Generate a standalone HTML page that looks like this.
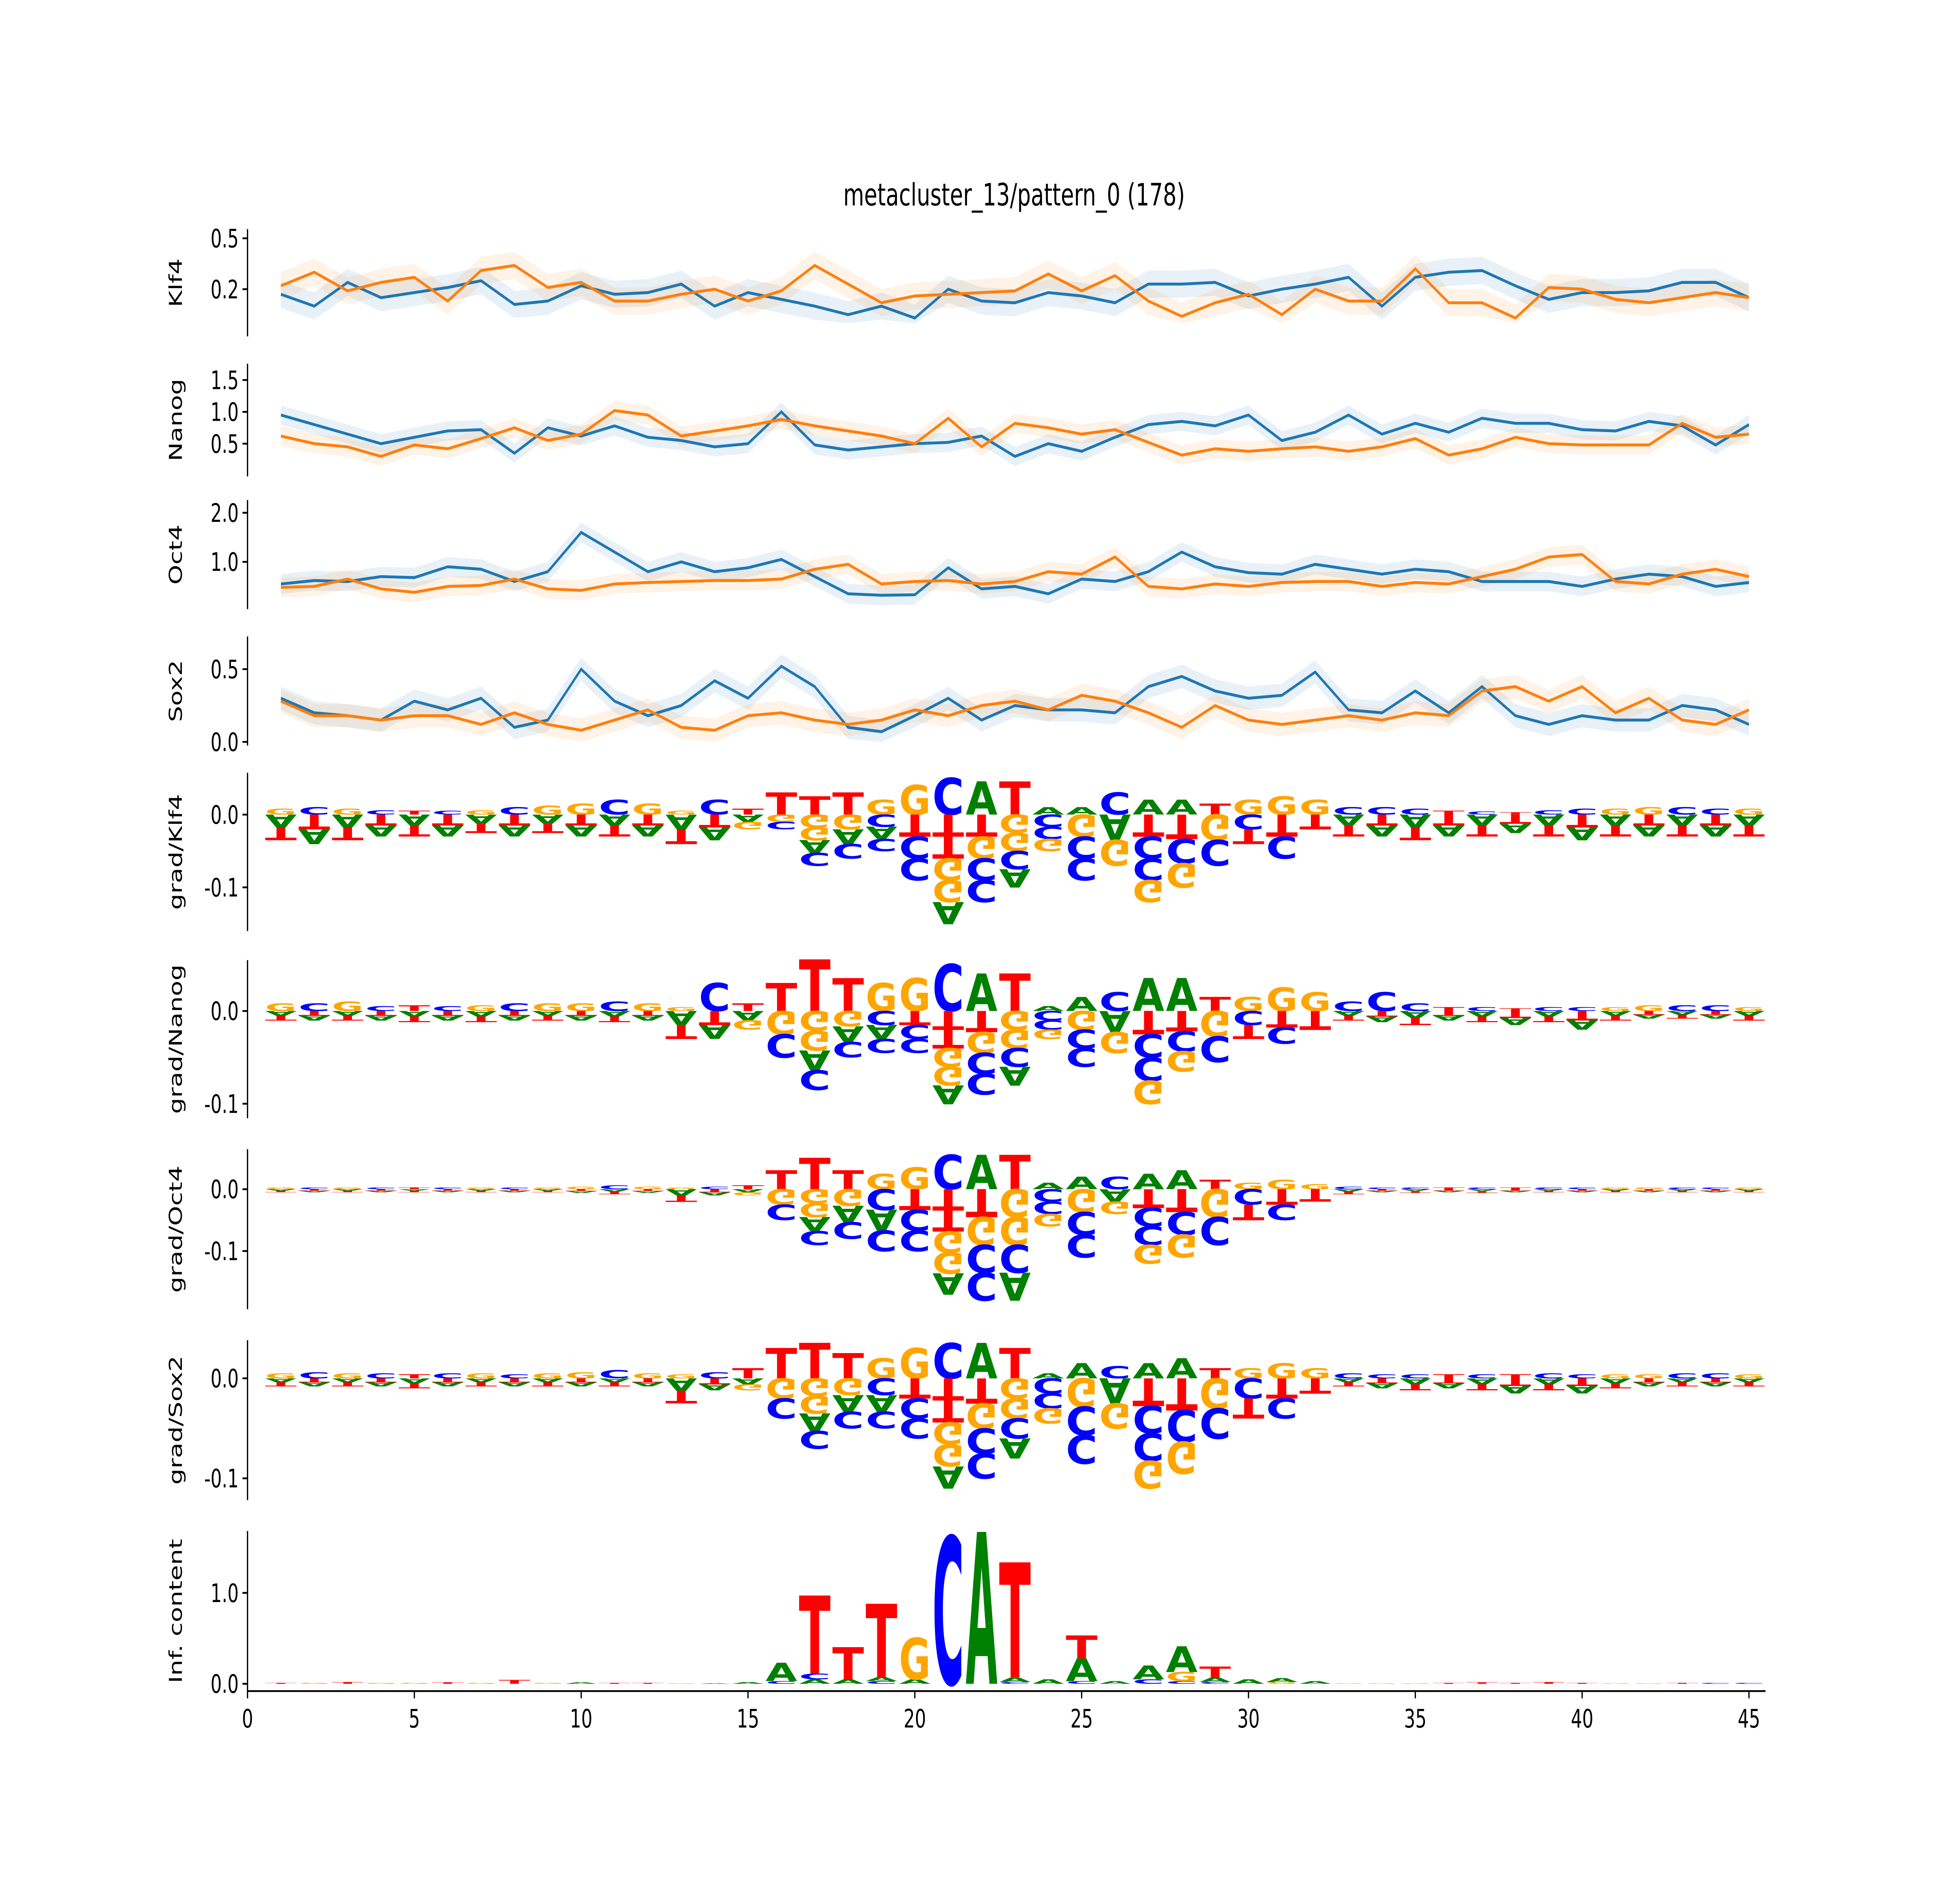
<!DOCTYPE html>
<html>
<head>
<meta charset="utf-8">
<style>
html,body{margin:0;padding:0;background:#fff;width:100vw;height:100vh;overflow:hidden;}
svg{display:block;width:100vw;height:100vh;}
text{font-family:"DejaVu Sans","Liberation Sans",sans-serif;}
</style>
</head>
<body>
<svg id="fig" xmlns="http://www.w3.org/2000/svg" width="100%" height="100%" viewBox="0 0 1552 1035" preserveAspectRatio="none">
<rect x="0" y="0" width="1552" height="1035" fill="#fff"/>
<text x="803" y="113" font-size="17" text-anchor="middle">metacluster_13/pattern_0 (178)</text>
</svg>
<script>
// ---------- data ----------
const positions = [1,2,3,4,5,6,7,8,9,10,11,12,13,14,15,16,17,18,19,20,21,22,23,24,25,26,27,28,29,30,31,32,33,34,35,36,37,38,39,40,41,42,43,44,45];
const xTicks = [0,5,10,15,20,25,30,35,40,45];

const klf4Blue = [0.17,0.1,0.24,0.15,0.18,0.21,0.25,0.11,0.13,0.22,0.17,0.18,0.23,0.1,0.18,0.14,0.1,0.05,0.1,0.03,0.2,0.13,0.12,0.18,0.16,0.12,0.23,0.23,0.24,0.16,0.2,0.23,0.27,0.1,0.27,0.3,0.31,0.22,0.14,0.18,0.18,0.19,0.24,0.24,0.15];
const klf4Orange = [0.22,0.3,0.19,0.24,0.27,0.13,0.31,0.34,0.21,0.24,0.13,0.13,0.17,0.2,0.13,0.19,0.34,0.23,0.12,0.16,0.17,0.18,0.19,0.29,0.19,0.28,0.13,0.04,0.12,0.17,0.05,0.2,0.13,0.13,0.32,0.12,0.12,0.03,0.21,0.2,0.14,0.12,0.15,0.18,0.15];
const nanogBlue = [0.95,0.8,0.65,0.5,0.6,0.7,0.72,0.35,0.75,0.62,0.78,0.6,0.55,0.45,0.5,1.0,0.48,0.4,0.45,0.5,0.52,0.62,0.3,0.5,0.38,0.6,0.8,0.85,0.78,0.95,0.55,0.68,0.95,0.65,0.82,0.68,0.9,0.82,0.82,0.72,0.7,0.85,0.78,0.48,0.8];
const nanogOrange = [0.62,0.5,0.45,0.3,0.48,0.42,0.58,0.75,0.55,0.65,1.02,0.95,0.62,0.7,0.78,0.88,0.78,0.7,0.62,0.5,0.9,0.45,0.82,0.75,0.65,0.72,0.52,0.32,0.42,0.38,0.42,0.45,0.38,0.45,0.58,0.32,0.42,0.6,0.5,0.48,0.48,0.48,0.82,0.6,0.65];
const oct4Blue = [0.55,0.62,0.6,0.7,0.68,0.9,0.85,0.6,0.8,1.6,1.2,0.8,1.0,0.8,0.88,1.05,0.7,0.35,0.32,0.33,0.88,0.45,0.5,0.35,0.65,0.6,0.8,1.2,0.9,0.78,0.75,0.95,0.85,0.75,0.85,0.8,0.6,0.6,0.6,0.5,0.65,0.75,0.7,0.5,0.58];
const oct4Orange = [0.48,0.5,0.65,0.45,0.38,0.5,0.52,0.65,0.45,0.42,0.55,0.58,0.6,0.62,0.62,0.65,0.85,0.95,0.55,0.6,0.62,0.55,0.6,0.8,0.75,1.1,0.5,0.45,0.55,0.5,0.58,0.6,0.6,0.5,0.58,0.55,0.7,0.85,1.1,1.15,0.6,0.55,0.75,0.85,0.7];
const sox2Blue = [0.3,0.2,0.18,0.15,0.28,0.22,0.3,0.1,0.15,0.5,0.28,0.18,0.25,0.42,0.3,0.52,0.38,0.1,0.07,0.18,0.3,0.15,0.25,0.22,0.22,0.2,0.38,0.45,0.35,0.3,0.32,0.48,0.22,0.2,0.35,0.2,0.38,0.18,0.12,0.18,0.15,0.15,0.25,0.22,0.12];
const sox2Orange = [0.28,0.18,0.18,0.15,0.18,0.18,0.12,0.2,0.12,0.08,0.15,0.22,0.1,0.08,0.18,0.2,0.15,0.12,0.15,0.22,0.18,0.25,0.28,0.22,0.32,0.28,0.2,0.1,0.25,0.15,0.12,0.15,0.18,0.15,0.2,0.18,0.35,0.38,0.28,0.38,0.2,0.3,0.15,0.12,0.22];
const bandErr = {klf4:0.08, nanog:0.15, oct4:0.2, sox2:0.08};

const posSeq = ["G","C","G","C","T","C","G","C","G","G","C","G","G","C","T","T","T","T","G","G","C","A","T","A","A","C","A","A","T","G","G","G","C","C","C","T","C","T","C","C","G","G","C","C","G"];
const negSeq = ["AT","TA","AT","TA","AT","TA","AT","TA","AT","TA","AT","TA","AT","TA","AG","GC","GGAC","GAC","CAC","TCC","TTGGA","TGCC","GGCA","CCG","GCC","AG","TCCG","TCG","GC","CT","TC","T","AT","TA","AT","TA","AT","TA","AT","TA","AT","TA","AT","TA","AT"];

const gKlf4Pos = [0.008,0.01,0.008,0.006,0.005,0.005,0.006,0.01,0.012,0.015,0.02,0.015,0.005,0.02,0.008,0.03,0.025,0.03,0.02,0.04,0.05,0.045,0.045,0.01,0.01,0.03,0.02,0.02,0.015,0.02,0.025,0.02,0.01,0.01,0.008,0.005,0.004,0.003,0.006,0.008,0.008,0.01,0.01,0.008,0.008];
const gKlf4Neg = [0.035,0.04,0.035,0.03,0.03,0.03,0.025,0.03,0.025,0.03,0.03,0.03,0.04,0.035,0.02,0.02,0.07,0.06,0.05,0.09,0.15,0.12,0.1,0.05,0.09,0.07,0.12,0.1,0.07,0.04,0.06,0.02,0.03,0.03,0.035,0.03,0.03,0.025,0.03,0.035,0.03,0.03,0.03,0.03,0.03];
const gNanogPos = [0.008,0.008,0.01,0.005,0.006,0.005,0.006,0.008,0.008,0.008,0.01,0.008,0.004,0.03,0.008,0.03,0.055,0.035,0.03,0.035,0.05,0.04,0.04,0.005,0.015,0.02,0.035,0.035,0.015,0.015,0.025,0.02,0.01,0.02,0.008,0.004,0.004,0.003,0.004,0.004,0.004,0.006,0.006,0.006,0.004];
const gNanogNeg = [0.01,0.01,0.01,0.01,0.012,0.01,0.012,0.01,0.01,0.01,0.012,0.01,0.03,0.03,0.02,0.05,0.085,0.05,0.045,0.045,0.1,0.09,0.08,0.03,0.06,0.045,0.1,0.065,0.055,0.03,0.035,0.02,0.01,0.012,0.015,0.01,0.012,0.015,0.012,0.02,0.01,0.008,0.008,0.008,0.01];
const gOct4Pos = [0.003,0.003,0.003,0.003,0.003,0.003,0.003,0.003,0.003,0.004,0.006,0.004,0.003,0.004,0.006,0.03,0.05,0.03,0.025,0.035,0.055,0.055,0.055,0.01,0.02,0.02,0.025,0.03,0.015,0.01,0.015,0.008,0.004,0.003,0.003,0.003,0.003,0.003,0.003,0.003,0.003,0.003,0.003,0.003,0.003];
const gOct4Neg = [0.005,0.005,0.005,0.005,0.005,0.005,0.005,0.005,0.005,0.006,0.008,0.006,0.02,0.01,0.01,0.05,0.09,0.08,0.1,0.1,0.17,0.18,0.18,0.06,0.11,0.04,0.12,0.11,0.09,0.05,0.05,0.02,0.008,0.005,0.006,0.005,0.006,0.005,0.005,0.005,0.005,0.005,0.005,0.005,0.005];
const gSox2Pos = [0.005,0.006,0.005,0.005,0.004,0.005,0.005,0.004,0.005,0.006,0.008,0.005,0.004,0.006,0.01,0.03,0.035,0.025,0.02,0.03,0.035,0.035,0.03,0.005,0.015,0.012,0.015,0.02,0.01,0.01,0.015,0.01,0.005,0.004,0.004,0.004,0.004,0.004,0.005,0.004,0.004,0.004,0.005,0.005,0.004];
const gSox2Neg = [0.008,0.008,0.008,0.008,0.01,0.008,0.008,0.008,0.008,0.008,0.008,0.008,0.025,0.012,0.012,0.04,0.07,0.05,0.05,0.06,0.11,0.1,0.08,0.045,0.085,0.05,0.11,0.095,0.06,0.04,0.04,0.015,0.008,0.01,0.012,0.01,0.012,0.015,0.012,0.015,0.01,0.008,0.008,0.008,0.008];

const infSeq = ["T","G","T","G","G","T","G","T","G","A","T","T","G","A","A","CA","ACT","AT","CAT","AG","C","A","CAT","A","CAT","A","CA","CGA","CAT","A","GA","A","G","G","G","T","T","T","T","T","G","G","T","C","C"];
const infHeights = [[0.01],[0.01],[0.02],[0.01],[0.01],[0.015],[0.01],[0.04],[0.01],[0.015],[0.01],[0.01],[0.005],[0.005],[0.02],[0.03,0.2],[0.05,0.06,0.85],[0.05,0.35],[0.03,0.04,0.8],[0.05,0.45],[1.6],[1.65],[0.02,0.05,1.25],[0.05],[0.03,0.25,0.25],[0.03],[0.05,0.15],[0.03,0.1,0.28],[0.02,0.05,0.12],[0.05],[0.02,0.04],[0.03],[0.005],[0.005],[0.005],[0.01],[0.015],[0.01],[0.02],[0.01],[0.005],[0.005],[0.01],[0.01],[0.01]];

// ---------- layout ----------
const NS = "http://www.w3.org/2000/svg";
const svg = document.getElementById("fig");
const X0 = 196, XU = 26.42, XEND = 1398;
const xs = v => X0 + v * XU;
const colors = {A:"#008000", C:"#0000ff", G:"#ffa500", T:"#ff0000"};

function mk(tag, attrs, parent){
  const e = document.createElementNS(NS, tag);
  for (const k in attrs) e.setAttribute(k, attrs[k]);
  (parent || svg).appendChild(e);
  return e;
}

const panels = [
 {key:"klf4", label:"Klf4", top:126, bot:185, zero:177.7, k:93.3, ticks:[0.2,0.5], kind:"line", blue:klf4Blue, orange:klf4Orange},
 {key:"nanog", label:"Nanog", top:200, bot:262, zero:261.5, k:35, ticks:[0.5,1.0,1.5], kind:"line", blue:nanogBlue, orange:nanogOrange},
 {key:"oct4", label:"Oct4", top:275, bot:335, zero:336, k:27, ticks:[1.0,2.0], kind:"line", blue:oct4Blue, orange:oct4Orange},
 {key:"sox2", label:"Sox2", top:350, bot:410, zero:408, k:80, ticks:[0.0,0.5], kind:"line", blue:sox2Blue, orange:sox2Orange},
 {key:"gklf4", label:"grad/Klf4", top:425, bot:512, zero:448, k:400, ticks:[0.0,-0.1], kind:"grad", pos:gKlf4Pos, neg:gKlf4Neg},
 {key:"gnanog", label:"grad/Nanog", top:528, bot:615, zero:556, k:510, ticks:[0.0,-0.1], kind:"grad", pos:gNanogPos, neg:gNanogNeg},
 {key:"goct4", label:"grad/Oct4", top:632, bot:720, zero:654, k:340, ticks:[0.0,-0.1], kind:"grad", pos:gOct4Pos, neg:gOct4Neg},
 {key:"gsox2", label:"grad/Sox2", top:737, bot:825, zero:758, k:550, ticks:[0.0,-0.1], kind:"grad", pos:gSox2Pos, neg:gSox2Neg},
 {key:"inf", label:"Inf. content", top:842, bot:930, zero:926, k:50, ticks:[0.0,1.0], kind:"inf"}
];

function letter(parent, ch, x, y, w, h, flip){
  if (h <= 0.2) return;
  const g = mk("g", {transform: flip ? `translate(${x},${y}) scale(${w/72},${-h/72})` : `translate(${x},${y+h}) scale(${w/72},${h/72})`}, parent);
  const t = mk("text", {x:0, y:0, "font-size":100, "font-weight":"bold", fill:colors[ch], textLength:72, lengthAdjust:"spacingAndGlyphs"}, g);
  
  
  t.textContent = ch;
}

panels.forEach(p => {
  const ys = v => p.zero - v * p.k;
  const g = mk("g", {});
  
  

  if (p.kind === "line") {
    const err = bandErr[p.key];
    [["blue","#1f77b4",p.blue],["orange","#ff7f0e",p.orange]].forEach(([nm,col,arr]) => {
      let up = "", dn = "";
      arr.forEach((v,i) => { up += (i?"L":"M") + xs(positions[i]) + "," + ys(v+err); });
      for (let i = arr.length-1; i >= 0; i--) dn += "L" + xs(positions[i]) + "," + ys(Math.max(0, arr[i]-err));
      const band = mk("path", {d: up + dn + "Z", fill:col, "fill-opacity":0.1, stroke:"none"}, g);
      
      
    });
    [["blue","#1f77b4",p.blue],["orange","#ff7f0e",p.orange]].forEach(([nm,col,arr]) => {
      const pts = arr.map((v,i) => xs(positions[i]) + "," + ys(v)).join(" ");
      const ln = mk("polyline", {points:pts, fill:"none", stroke:col, "stroke-width":1.6}, g);
      
      
    });
  } else if (p.kind === "grad") {
    const w = XU * 0.95;
    positions.forEach((pos,i) => {
      const x = xs(pos) - w/2;
      const ph = p.pos[i] * p.k;
      letter(g, posSeq[i], x, p.zero - ph, w, ph, false);
      const letters = negSeq[i];
      const nh = p.neg[i] * p.k / letters.length;
      for (let j = 0; j < letters.length; j++) {
        letter(g, letters[j], x, p.zero + j*nh, w, nh, true);
      }
    });
  } else {
    const w = XU * 0.95;
    positions.forEach((pos,i) => {
      const x = xs(pos) - w/2;
      let base = p.zero;
      const hs = infHeights[i];
      for (let j = 0; j < hs.length; j++) {
        const h = hs[j] * p.k;
        letter(g, infSeq[i][j], x, base - h, w, h, false);
        base -= h;
      }
    });
  }

  const sp = mk("line", {x1:X0, x2:X0, y1:p.top, y2:p.bot, stroke:"#000", "stroke-width":1});
  
  
  p.ticks.forEach(t => {
    const y = ys(t);
    const tk = mk("line", {x1:X0-4, x2:X0, y1:y, y2:y, stroke:"#000", "stroke-width":1});
    
    
    const lb = mk("text", {x:X0-7, y:y+5, "font-size":14, "text-anchor":"end"});
    
    
    lb.textContent = (t < 0 ? "-" : "") + Math.abs(t).toFixed(1);
  });
  const cy = (p.top + p.bot) / 2;
  const yl = mk("text", {x:0, y:0, "font-size":14, "text-anchor":"middle", transform:`translate(144,${cy}) rotate(-90)`});
  
  
  yl.textContent = p.label;
});

const xa = mk("line", {x1:X0, x2:XEND, y1:930, y2:930, stroke:"#000", "stroke-width":1});


xTicks.forEach(t => {
  const x = xs(t);
  const tk = mk("line", {x1:x, x2:x, y1:930, y2:934, stroke:"#000", "stroke-width":1});
  
  
  const lb = mk("text", {x:x, y:950, "font-size":14, "text-anchor":"middle"});
  
  
  lb.textContent = String(t);
});
</script>
</body>
</html>
